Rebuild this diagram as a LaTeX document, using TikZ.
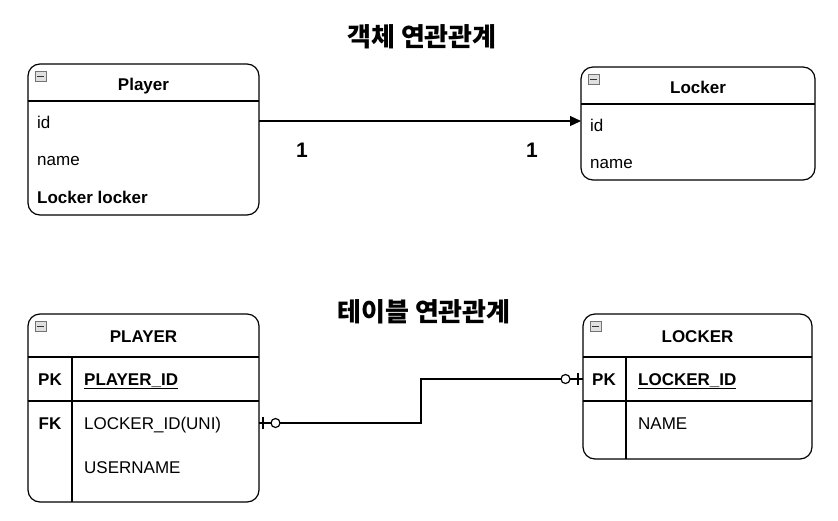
\documentclass[tikz,border=0pt]{standalone}
\usepackage{fontspec}
\setmainfont{Liberation Sans}
\newfontfamily\kr{Noto Sans CJK KR}
\usetikzlibrary{arrows.meta}
\begin{document}
\begin{tikzpicture}[x=1pt,y=-1pt,
  box/.style={draw=black,line width=1.2pt,rounded corners=12pt,fill=white,inner sep=0pt},
  sep/.style={draw=black,line width=1.2pt},
  txt/.style={inner sep=0pt,text height=12.2pt,text depth=0pt,font=\fontsize{17}{20}\selectfont},
  btxt/.style={txt,font=\fontsize{17}{20}\selectfont\bfseries},
  ttl/.style={inner sep=0pt,font=\fontsize{26}{30}\selectfont\kr\bfseries},
  one/.style={inner sep=0pt,font=\fontsize{21}{24}\selectfont\bfseries},
  conn/.style={draw=black,line width=1.2pt},
  icon/.style={draw=black!55,fill=black!12,line width=0.6pt,minimum width=11pt,minimum height=10pt,inner sep=0pt}
]
\useasboundingbox (0,0) rectangle (838,520);

% titles
\node[ttl] (t1) at (422,37) {객체 연관관계};
\node[ttl] (t2) at (424,312) {테이블 연관관계};

% ---------- Player (object) ----------
\node[box,minimum width=231pt,minimum height=151pt] (player) at (143.5,139.5) {};
\draw[sep] (28,101) -- (259,101);
\node[icon] (pi) at (40.5,76) {};
\draw[black!80,line width=1pt] (37,76) -- (44,76);
\node[btxt] (ph) at (143.5,84) {Player};
\node[txt,anchor=west] (pid) at (37,122) {id};
\node[txt,anchor=west] (pname) at (37,159) {name};
\node[btxt,anchor=west] (plock) at (37,197) {Locker locker};

% ---------- Locker (object) ----------
\node[box,minimum width=234pt,minimum height=113pt] (locker) at (698,123.5) {};
\draw[sep] (581,104) -- (815,104);
\node[icon] (li) at (593.5,79) {};
\draw[black!80,line width=1pt] (590,79) -- (597,79);
\node[btxt] (lh) at (698,87) {Locker};
\node[txt,anchor=west] (lid) at (590,125) {id};
\node[txt,anchor=west] (lname) at (590,162) {name};

% object relation arrow
\coordinate (a1) at (259,121);
\coordinate (a2) at (581,121);
\draw[conn,-{Triangle[length=11pt,width=10pt]}] (a1) -- (a2);
\node[one] (n1) at (302,150) {1};
\node[one] (n2) at (532,150) {1};

% ---------- PLAYER (table) ----------
\node[box,minimum width=231pt,minimum height=188pt] (PL) at (143.5,408) {};
\draw[sep] (28,357) -- (259,357);
\draw[sep] (28,401) -- (259,401);
\draw[sep] (72,357) -- (72,502);
\node[icon] (PLi) at (40.5,326) {};
\draw[black!80,line width=1pt] (37,326) -- (44,326);
\node[btxt] (PLh) at (143.5,336) {PLAYER};
\node[btxt] (PLpk) at (50,379) {PK};
\node[btxt,anchor=west] (PLid) at (84,379) {\underline{PLAYER\_ID}};
\node[btxt] (PLfk) at (50,423) {FK};
\node[txt,anchor=west] (PLlid) at (84,423) {LOCKER\_ID(UNI)};
\node[txt,anchor=west] (PLun) at (84,467) {USERNAME};

% ---------- LOCKER (table) ----------
\node[box,minimum width=229pt,minimum height=145pt] (LO) at (697.5,386.5) {};
\draw[sep] (583,357) -- (812,357);
\draw[sep] (583,401) -- (812,401);
\draw[sep] (626,357) -- (626,459);
\node[icon] (LOi) at (595.5,326) {};
\draw[black!80,line width=1pt] (592,326) -- (599,326);
\node[btxt] (LOh) at (697.5,336) {LOCKER};
\node[btxt] (LOpk) at (604,379) {PK};
\node[btxt,anchor=west] (LOid) at (638,379) {\underline{LOCKER\_ID}};
\node[txt,anchor=west] (LOname) at (638,423) {NAME};

% table relation (zero-or-one to zero-or-one)
\coordinate (c1) at (259,423);
\coordinate (c2) at (421,423);
\coordinate (c3) at (421,379);
\coordinate (c4) at (583,379);
\draw[conn] (c1) -- (c2) -- (c3) -- (c4);
\draw[conn] (263,417) -- (263,429);
\draw[conn,fill=white] (275.5,423) circle (4.5pt);
\draw[conn] (578,373) -- (578,385);
\draw[conn,fill=white] (565.5,379) circle (4.5pt);
\end{tikzpicture}
\end{document}
